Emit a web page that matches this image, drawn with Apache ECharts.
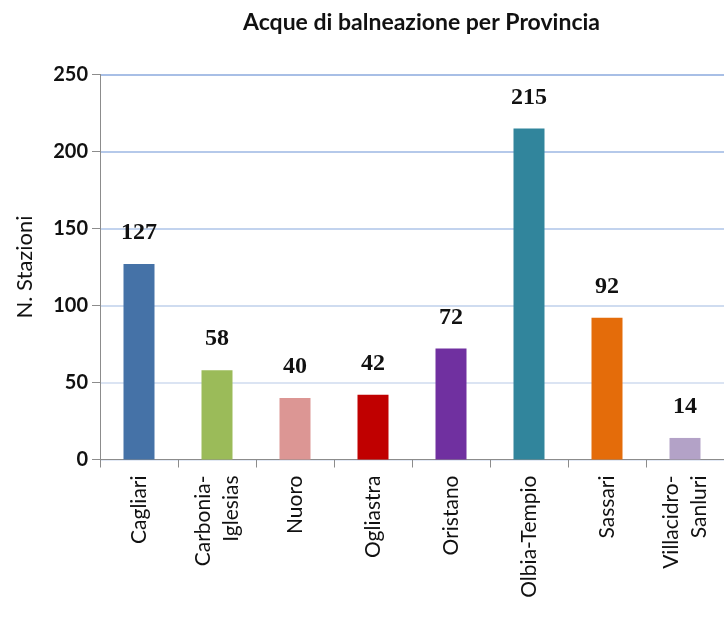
<!DOCTYPE html>
<html>
<head>
<meta charset="utf-8">
<script src="https://cdn.jsdelivr.net/npm/echarts@6/dist/echarts.min.js"></script>
<style>
  html, body { margin: 0; padding: 0; background: #fff; }
  #chart { width: 724px; height: 617px; }
</style>
</head>
<body>
<div id="chart"></div>
<script>
const province = ['Cagliari', 'Carbonia-\nIglesias', 'Nuoro', 'Ogliastra', 'Oristano', 'Olbia-Tempio', 'Sassari', 'Villacidro-\nSanluri'];
const stazioni = [127, 58, 40, 42, 72, 215, 92, 14];
const colori = ['#4572a7', '#9bbb59', '#dc9694', '#c00000', '#7030a0', '#31859c', '#e46c0a', '#b3a2c7'];

const chart = echarts.init(document.getElementById('chart'));
const option = {
  animation: false,
  title: {
    text: 'Acque di balneazione per Provincia',
    left: 238,
    top: 6,
    textStyle: { fontFamily: 'Lato', fontSize: 23, fontWeight: 'bold', color: '#111' }
  },
  grid: { left: 100, right: -8, top: 74.5, bottom: 157.5 },
  xAxis: {
    type: 'category',
    data: province,
    axisLine: { lineStyle: { color: '#8c8c8c', width: 1 } },
    axisTick: { show: true, length: 8, lineStyle: { color: '#8c8c8c' } },
    axisLabel: {
      rotate: 90,
      margin: 16,
      interval: 0,
      fontFamily: 'Lato',
      fontSize: 21,
      color: '#111',
      lineHeight: 28
    }
  },
  yAxis: {
    type: 'value',
    min: 0,
    max: 250,
    interval: 50,
    name: 'N. Stazioni',
    nameLocation: 'middle',
    nameGap: 64,
    nameTextStyle: { fontFamily: 'Lato', fontSize: 22, color: '#111' },
    axisLine: { show: true, lineStyle: { color: '#8c8c8c', width: 1 } },
    axisTick: { show: true, length: 8, lineStyle: { color: '#8c8c8c' } },
    axisLabel: { margin: 12, fontFamily: 'Lato', fontSize: 20, fontWeight: 'bold', color: '#111' },
    splitLine: {
      lineStyle: {
        width: 2,
        color: ['#e2e9f5', '#dbe4f3', '#cfdcf0', '#c2d3ee', '#b5c9ea', '#a8bfe6']
      }
    }
  },
  series: [{
    type: 'bar',
    barWidth: 31,
    data: stazioni.map((v, i) => ({ value: v, itemStyle: { color: colori[i] } })),
    label: {
      show: true,
      position: 'top',
      distance: 19,
      fontFamily: 'Liberation Serif',
      fontSize: 24,
      fontWeight: 'bold',
      color: '#111'
    }
  }]
};
chart.setOption(option);
</script>
</body>
</html>
